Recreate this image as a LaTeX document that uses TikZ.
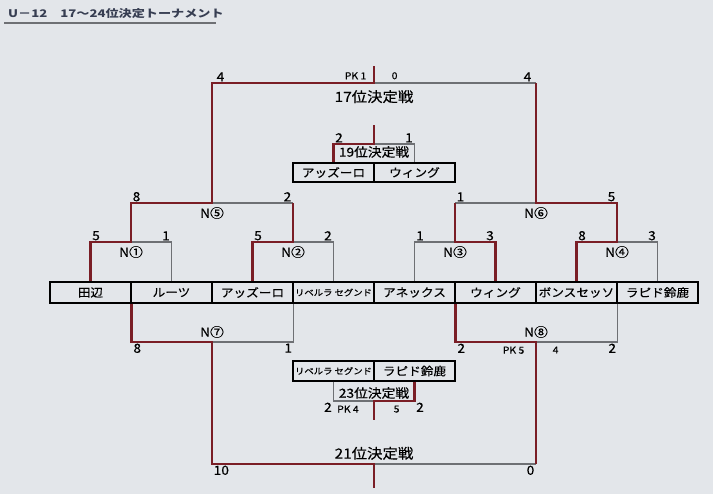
\documentclass[tikz,border=0pt]{standalone}
\usepackage{fontspec}
\newfontfamily\jp[FakeStretch=1.1,FakeBold=0.4]{Noto Sans CJK JP}
\newfontfamily\jptitle[FakeStretch=1.25]{Noto Sans CJK JP}
\usetikzlibrary{positioning}
\definecolor{paper}{RGB}{227,230,234}
\definecolor{winred}{RGB}{122,30,38}
\definecolor{linegray}{RGB}{110,112,116}
\definecolor{titleink}{RGB}{55,62,82}
\newcommand{\fs}[1]{\fontsize{#1}{#1}\selectfont}

\begin{document}
\begin{tikzpicture}[x=1pt,y=-1pt,
  team/.style={draw=black,line width=1.5pt,minimum width=81pt,minimum height=21pt,inner sep=0pt,font=\jp\fs{11.5}},
  score/.style={inner sep=1.5pt,font=\jp\fs{12.5}},
  pk/.style={inner sep=1.5pt,font=\jp\fs{9.5}},
  match/.style={inner sep=1pt,font=\jp\fs{12.5}},
  final/.style={inner sep=1pt,font=\jp\fs{14}},
  won/.style={draw=winred,line width=2.8pt},
  lost/.style={draw=linegray,line width=1.1pt}]
\useasboundingbox (0,0) rectangle (713,494);
\fill[paper] (0,0) rectangle (713,494);

% title
\node[anchor=west,inner sep=0pt,font=\jptitle\bfseries\fs{10.5},text=titleink] (title) at (8,14) {U－12　17～24位決定トーナメント};
\draw[line width=2.6pt,draw=linegray] (4,23) -- (216,23);

% teams
\foreach \i/\name in {1/田辺,2/ルーツ,3/アッズーロ,4/{\fs{8.5}リベルラ セグンド},5/アネックス,6/ウィング,7/ボンスセッソ,8/ラピド鈴鹿}
  \node[team] (t\i) at ({50+81*(\i-0.5)},292.5) {\name};
\node[team,minimum height=19pt] (s1) at (333.5,172.5) {アッズーロ};
\node[team,minimum height=19pt] (s2) at (414.5,172.5) {ウィング};
\node[team,minimum height=20pt] (u1) at (333.5,371) {\fs{8.5}リベルラ セグンド};
\node[team,minimum height=20pt] (u2) at (414.5,371) {ラピド鈴鹿};

% match points
\coordinate (n1) at (131,242);
\coordinate (n2) at (293,242);
\coordinate (n3) at (455,242);
\coordinate (n4) at (617,242);
\coordinate (n5) at (212,203);
\coordinate (n6) at (536,203);
\coordinate (f17) at (374,83);
\coordinate (top17) at (374,66);
\coordinate (m19) at (374,144);
\coordinate (top19) at (374,125);
\coordinate (n7) at (212,342);
\coordinate (n8) at (536,342);
\coordinate (f21) at (374,464);
\coordinate (end21) at (374,488);
\coordinate (m23) at (374,401);
\coordinate (end23) at (374,420);

% lines
\draw[lost] (t2.north) |- (n1);
\draw[lost] (t4.north) |- (n2);
\draw[lost] (t5.north) |- (n3);
\draw[lost] (t8.north) |- (n4);
\draw[lost] (n2 |- n5) -- (n5);
\draw[lost] (n3 |- n6) -- (n6);
\draw[lost] (n6 |- f17) -- (f17);
\draw[lost] (s2.north) |- (m19);
\draw[lost] (t3.south east) |- (n7);
\draw[lost] (t7.south east) |- (n8);
\draw[lost] (n8 |- f21) -- (f21);
\draw[lost] (u1.south) |- (m23);

\draw[won] (t1.north) |- (n1) |- (n5) |- (f17) -- (top17);
\draw[won] (t3.north) |- (n2) -- (n2 |- n5);
\draw[won] (t6.north) |- (n3) -- (n3 |- n6);
\draw[won] (t7.north) |- (n4) |- (n6) -- (n6 |- f17);
\draw[won] (s1.north) |- (m19) -- (top19);
\draw[won] (t1.south east) |- (n7) |- (f21) -- (end21);
\draw[won] (t5.south east) |- (n8) -- (n8 |- f21);
\draw[won] (u2.south) |- (m23) -- (end23);

% match names
\foreach \m/\k in {n1/①,n2/②,n3/③,n4/④,n5/⑤,n6/⑥}
  \node[match,below=3pt] (l\m) at (\m) {N\k};
\node[match,above=3pt] (ln7) at (n7) {N⑦};
\node[match,above=3pt] (ln8) at (n8) {N⑧};
\node[final,below=6pt] (l17) at (f17) {17位決定戦};
\node[final,above=3pt] (l21) at (f21) {21位決定戦};
\node[match,below=1pt] (l19) at (m19) {19位決定戦};
\node[match,above=1pt] (l23) at (m23) {23位決定戦};

% scores
\node[score,above right] (a1) at (t1.north |- n1) {5};
\node[score,above left] (b1) at (t2.north |- n1) {1};
\node[score,above right] (a2) at (t3.north |- n2) {5};
\node[score,above left] (b2) at (t4.north |- n2) {2};
\node[score,above right] (a3) at (t5.north |- n3) {1};
\node[score,above left] (b3) at (t6.north |- n3) {3};
\node[score,above right] (a4) at (t7.north |- n4) {8};
\node[score,above left] (b4) at (t8.north |- n4) {3};
\node[score,above right] (a5) at (n1 |- n5) {8};
\node[score,above left] (b5) at (n2 |- n5) {2};
\node[score,above right] (a6) at (n3 |- n6) {1};
\node[score,above left] (b6) at (n4 |- n6) {5};
\node[score,above right=0pt and 3pt] (a17) at (n5 |- f17) {4};
\node[score,above left=0pt and 3pt] (b17) at (n6 |- f17) {4};
\node[pk,above left=2pt and 6pt] (pa17) at (f17) {PK 1};
\node[pk,above right=2pt and 16pt] (pb17) at (f17) {0};
\node[score,above right] (a19) at (s1.north |- m19) {2};
\node[score,above left] (b19) at (s2.north |- m19) {1};
\node[score,below right] (a7) at (t1.south east |- n7) {8};
\node[score,below left] (b7) at (t3.south east |- n7) {1};
\node[score,below right] (a8) at (t5.south east |- n8) {2};
\node[score,below left] (b8) at (t7.south east |- n8) {2};
\node[pk,below left=3pt and 10pt] (pa8) at (n8) {PK 5};
\node[pk,below right=3pt and 15pt] (pb8) at (n8) {4};
\node[score,below right] (a21) at (n7 |- f21) {10};
\node[score,below left] (b21) at (n8 |- f21) {0};
\node[score,below left] (a23) at (u1.south |- m23) {2};
\node[pk,below right=3pt and 2pt] (pa23) at (u1.south |- m23) {PK 4};
\node[pk,below right=3pt and 18pt] (pb23) at (m23) {5};
\node[score,below right] (b23) at (u2.south |- m23) {2};
\end{tikzpicture}
\end{document}
